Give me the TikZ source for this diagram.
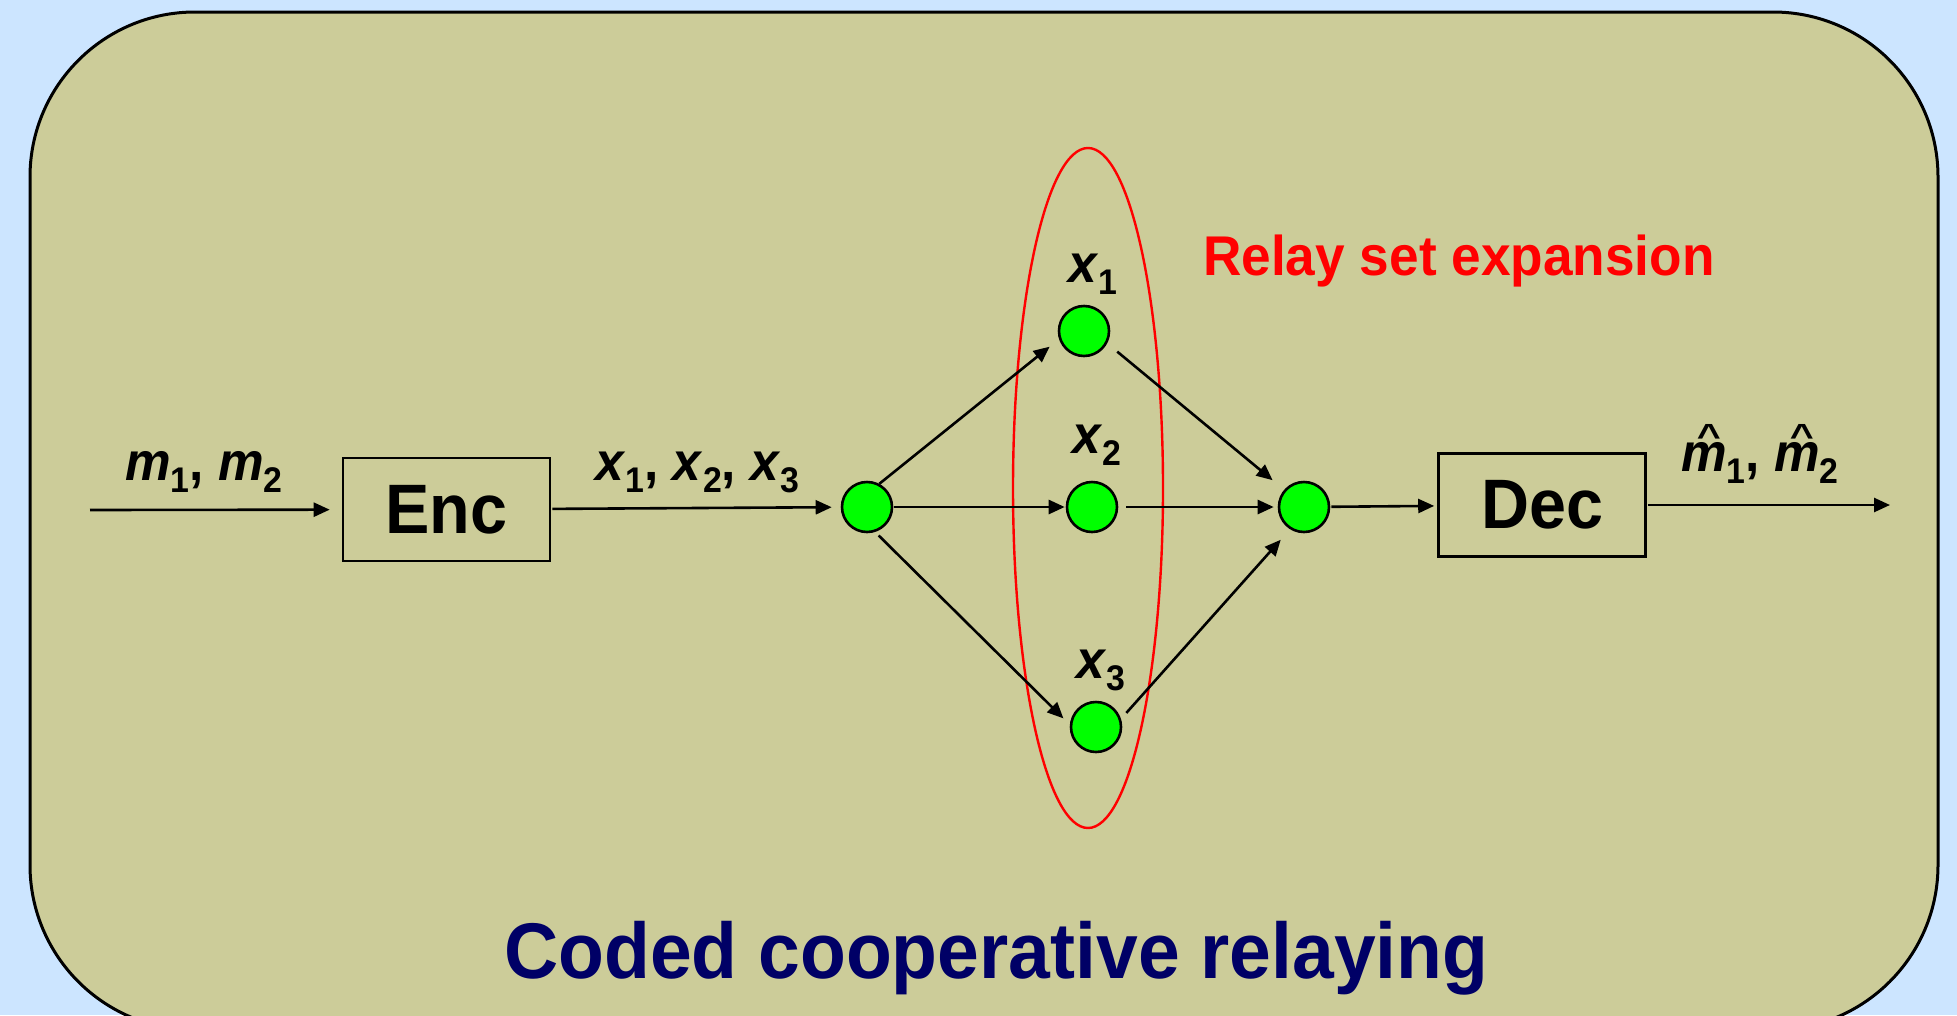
\documentclass[tikz,border=0pt]{standalone}
\usepackage{fontspec}
\setmainfont{Liberation Sans}[FakeStretch=0.95]
\usetikzlibrary{arrows.meta}
\definecolor{bgblue}{RGB}{204,229,255}
\definecolor{panel}{RGB}{204,204,153}
\definecolor{nodegreen}{RGB}{0,255,0}
\definecolor{navy}{RGB}{0,0,102}
\newcommand\sbs[1]{\raisebox{-0.24em}{\scalebox{0.66}{#1}}}
\newcommand\hatm{\makebox[0pt][l]{\kern0.29em\raisebox{0.44em}{\scalebox{0.8}[0.62]{\upshape\textasciicircum}}}m}
\begin{document}
\begin{tikzpicture}[x=1pt,y=-1pt,
  arr/.style={line width=2.6pt,-{Triangle[length=16pt,width=14pt]}},
  relaynode/.style={circle,draw,line width=2.6pt,fill=nodegreen,minimum size=50pt,inner sep=0pt},
  blockbox/.style={draw,line width=2.6pt,minimum width=207pt,minimum height=103pt,inner sep=0pt,font=\fontsize{70}{80}\selectfont\bfseries},
  lbl/.style={anchor=base west,inner sep=0pt,font=\fontsize{54}{60}\selectfont\bfseries}]
\useasboundingbox (0,0) rectangle (1957,1015);
\fill[bgblue] (0,0) rectangle (1957,1015);
\begin{scope}
\clip (0,0) rectangle (1957,1015);
\draw[fill=panel,line width=3pt,rounded corners=165pt] (30,12) rectangle (1938,1030);
\end{scope}
% ellipse
\draw[red,line width=2.4pt] (1088,488) ellipse [x radius=75,y radius=340];
% nodes
\node[blockbox] (enc) at (446.5,509.5) {Enc};
\node[blockbox] (dec) at (1542,505) {Dec};
\node[relaynode] (S) at (867,507) {};
\node[relaynode] (x1) at (1084,331) {};
\node[relaynode] (x2) at (1092,507) {};
\node[relaynode] (x3) at (1096,727) {};
\node[relaynode] (R) at (1304,507) {};
\coordinate (in) at (90,510);
\coordinate (out) at (1890,505);
% labels
\node[lbl] (lm) at (125,480) {\textit{m}\sbs{1}, \textit{m}\sbs{2}};
\node[lbl] (lx) at (595,480) {\textit{x}\sbs{1}, \textit{x}\sbs{2}, \textit{x}\sbs{3}};
\node[lbl] (lhm) at (1681,471) {\textit{\hatm}\sbs{1}, \textit{\hatm}\sbs{2}};
\node[lbl] (l1) at (1068,282) {\textit{x}\sbs{1}};
\node[lbl] (l2) at (1072,453) {\textit{x}\sbs{2}};
\node[lbl] (l3) at (1076,678) {\textit{x}\sbs{3}};
\node[anchor=base west,inner sep=0pt,text=red,font=\fontsize{56}{60}\selectfont\bfseries] (rse) at (1203,275) {Relay set expansion};
\node[anchor=base west,inner sep=0pt,text=navy,font=\fontsize{79}{90}\selectfont\bfseries] (title) at (504,978) {Coded cooperative relaying};
% connectors
\draw[arr,shorten >=12pt] (in) -- (enc);
\draw[arr,shorten <=1pt,shorten >=9pt] (enc) -- (S);
\draw[arr,shorten >=12pt] (S.62) -- (x1.198);
\draw[arr,shorten <=1pt,shorten >=1pt] (S) -- (x2);
\draw[arr,shorten <=5pt,shorten >=9pt] (S.-72) -- (x3.175);
\draw[arr,shorten <=13pt,shorten >=15pt] (x1.-28) -- (R.139);
\draw[arr,shorten <=8pt,shorten >=4pt] (x2) -- (R);
\draw[arr,shorten <=8pt,shorten >=14pt] (x3.18) -- (R.238);
\draw[arr,shorten <=1pt,shorten >=3pt] (R) -- (dec);
\draw[arr,shorten <=1pt] (dec) -- (out);
\end{tikzpicture}
\end{document}
